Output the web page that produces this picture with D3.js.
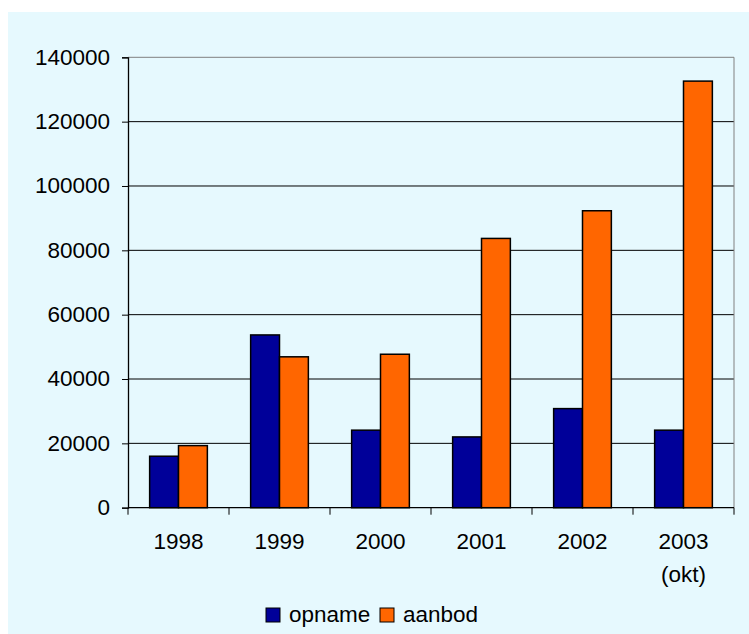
<!DOCTYPE html>
<html>
<head>
<meta charset="utf-8">
<script src="https://cdn.jsdelivr.net/npm/d3@7"></script>
<style>
  html, body { margin: 0; padding: 0; background: #ffffff; }
  svg { display: block; }
  text { font-family: "Liberation Sans", Arial, sans-serif; fill: #000; }
</style>
</head>
<body>
<svg id="chart" width="749" height="634"></svg>
<script>
const categories = ["1998", "1999", "2000", "2001", "2002", "2003\n(okt)"];
const seriesNames = ["opname", "aanbod"];
const opname = [16000, 53700, 24100, 22000, 30800, 24100];
const aanbod = [19300, 46900, 47700, 83700, 92300, 132600];
const yTicks = [0, 20000, 40000, 60000, 80000, 100000, 120000, 140000];
const seriesColors = ["#000099", "#FF6600"];

const seriesValues = [opname, aanbod];
const svg = d3.select("#chart");
const W = 749, H = 634;
const plot = { left: 128, right: 734, top: 57.3, bottom: 507.7 };
const fontSize = 22.5;

// background panel
svg.append("rect").attr("x", 8).attr("y", 12).attr("width", W - 8).attr("height", H - 12)
  .attr("fill", "#E6F9FE");

const y = d3.scaleLinear().domain([0, 140000]).range([plot.bottom, plot.top]);
const x0 = d3.scaleBand().domain(categories).range([plot.left, plot.right]).padding(0);
const x1 = d3.scaleBand().domain(seriesNames).range([0, x0.bandwidth()]).paddingInner(0).paddingOuter(0.75);

// gridlines
svg.append("g").selectAll("line").data(yTicks.filter(d => d > 0)).join("line")
  .attr("x1", plot.left).attr("x2", plot.right)
  .attr("y1", d => y(d)).attr("y2", d => y(d))
  .attr("stroke", d => d === 140000 ? "#808080" : "#000").attr("stroke-width", 1);

// plot border right
svg.append("line").attr("x1", plot.right).attr("x2", plot.right)
  .attr("y1", plot.top).attr("y2", plot.bottom).attr("stroke", "#808080").attr("stroke-width", 1);

// bars
const groups = svg.append("g").selectAll("g").data(categories).join("g")
  .attr("transform", d => `translate(${x0(d)},0)`);
groups.selectAll("rect").data((c, i) => seriesNames.map((s, j) => ({ s, j, v: seriesValues[j][i] })))
  .join("rect")
  .attr("x", d => x1(d.s))
  .attr("width", x1.bandwidth())
  .attr("y", d => y(d.v))
  .attr("height", d => y(0) - y(d.v))
  .attr("fill", d => seriesColors[d.j])
  .attr("stroke", "#000").attr("stroke-width", 1.5);

// y axis
const yAxis = d3.axisLeft(y).tickValues(yTicks).tickFormat(d3.format("d")).tickSize(6).tickPadding(12);
const gy = svg.append("g").attr("transform", `translate(${plot.left},0)`).call(yAxis);
gy.select(".domain").attr("stroke", "#000").attr("stroke-width", 1.3);
gy.selectAll(".tick line").attr("stroke", "#000");
gy.selectAll(".tick text").attr("font-size", fontSize).attr("dy", "0.3em")
  .style("font-family", '"Liberation Sans", Arial, sans-serif');

// x axis line
svg.append("line").attr("x1", plot.left).attr("x2", plot.right)
  .attr("y1", y(0)).attr("y2", y(0)).attr("stroke", "#000").attr("stroke-width", 1.3);

// x ticks at category boundaries
const boundaries = categories.map(c => x0(c)).concat([plot.right]);
svg.append("g").selectAll("line").data(boundaries).join("line")
  .attr("x1", d => d).attr("x2", d => d)
  .attr("y1", y(0)).attr("y2", y(0) + 7)
  .attr("stroke", "#000").attr("stroke-width", 1);

// x labels
const xl = svg.append("g").selectAll("text").data(categories).join("text")
  .attr("x", d => x0(d) + x0.bandwidth() / 2)
  .attr("y", y(0) + 41)
  .attr("text-anchor", "middle")
  .attr("font-size", fontSize);
xl.selectAll("tspan").data(d => d.split("\n")).join("tspan")
  .attr("x", function () { return d3.select(this.parentNode).attr("x"); })
  .attr("dy", (d, i) => i === 0 ? 0 : 33)
  .text(d => d);

// legend
const legendItems = [
  { name: seriesNames[0], color: seriesColors[0], x: 266 },
  { name: seriesNames[1], color: seriesColors[1], x: 380 }
];
const lg = svg.append("g").selectAll("g").data(legendItems).join("g");
lg.append("rect").attr("x", d => d.x).attr("y", 608).attr("width", 14).attr("height", 14)
  .attr("fill", d => d.color).attr("stroke", "#000").attr("stroke-width", 1);
lg.append("text").attr("x", d => d.x + 23).attr("y", 622).attr("font-size", fontSize).text(d => d.name);
</script>
</body>
</html>
